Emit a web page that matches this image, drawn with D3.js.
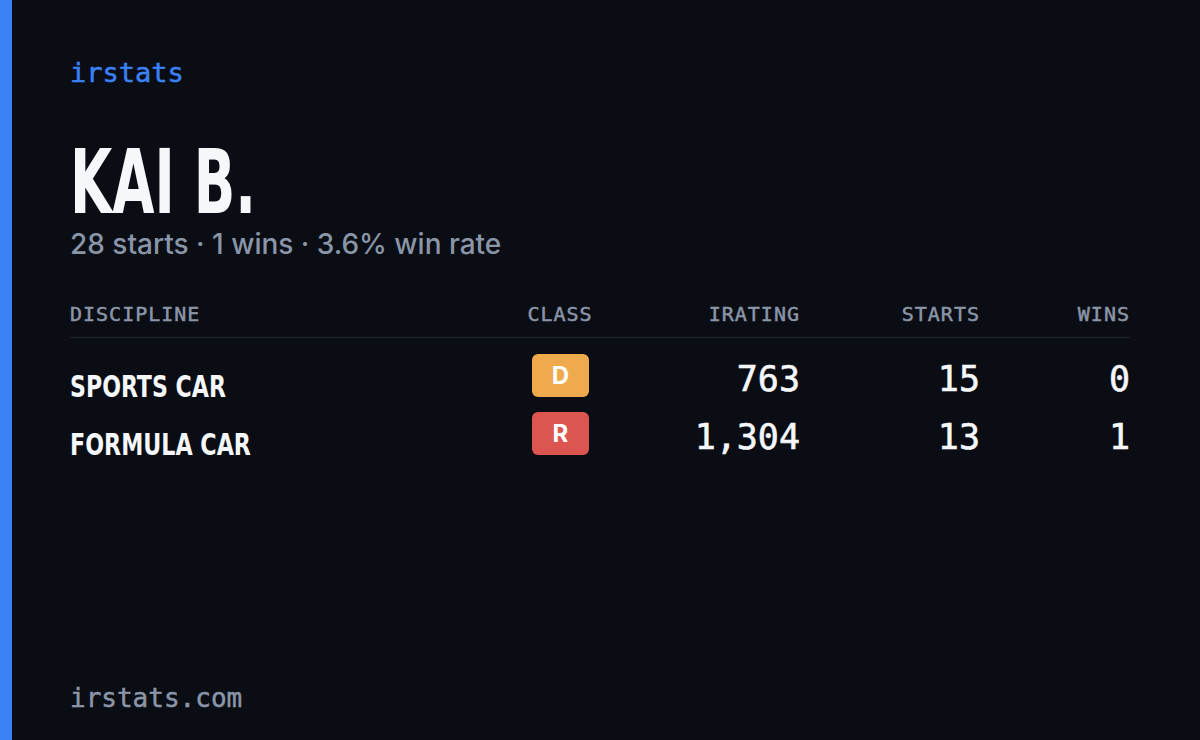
<!DOCTYPE html>
<html><head><meta charset="utf-8">
<script src="https://cdn.jsdelivr.net/npm/d3@7"></script>
<style>body{margin:0;background:#0a0d14}</style>
</head><body><div id="chart"></div>
<script>
const disciplines = ['SPORTS CAR', 'FORMULA CAR']
const classes = ['D', 'R']
const classColors = ['#eeaa4c', '#dc5550']
const iratings = [763, 1304]
const starts = [15, 13]
const wins = [0, 1]
const headers = ['DISCIPLINE', 'CLASS', 'IRATING', 'STARTS', 'WINS']

const W = 1200, H = 740
const mono = "'DejaVu Sans Mono', monospace"
const cond = "'DejaVu Sans Condensed', 'DejaVu Sans', sans-serif"
const svg = d3.select('#chart').append('svg').attr('width', W).attr('height', H)
svg.append('rect').attr('width', W).attr('height', H).attr('fill', '#0a0d14')
svg.append('rect').attr('width', 12).attr('height', H).attr('fill', '#3b82f6')

svg.append('text').attr('x', 70).attr('y', 82).text('irstats')
  .attr('font-family', mono).attr('font-size', 27).attr('fill', '#3b82f6')
  .attr('stroke', '#3b82f6').attr('stroke-width', 0.5)

// condensed title: squeeze horizontally to fit
function fitText(sel, targetW) {
  let w = sel.node().getComputedTextLength()
  let x = +sel.attr('x'), yy = +sel.attr('y')
  sel.attr('x', 0).attr('y', 0).attr('transform', `translate(${x},${yy}) scale(${targetW / w},1)`)
}
let title = svg.append('text').attr('x', 70).attr('y', 213).text('KAI B.')
  .attr('font-family', cond).attr('font-weight', 'bold').attr('font-size', 89)
  .attr('fill', '#f5f7fa')
fitText(title, 186)

let totalStarts = d3.sum(starts), totalWins = d3.sum(wins)
svg.append('text').attr('x', 70).attr('y', 254)
  .text(`${totalStarts} starts · ${totalWins} wins · ${(totalWins / totalStarts * 100).toFixed(1)}% win rate`)
  .attr('font-family', 'Inter, sans-serif').attr('font-weight', 500).attr('font-size', 28).attr('fill', '#8b95a8')

// column anchors
const colX = [70, 560, 800, 980, 1130]
const colAnchor = ['start', 'middle', 'end', 'end', 'end']
svg.selectAll('text.h').data(headers).enter().append('text').attr('class', 'h')
  .attr('x', (d, i) => colX[i]).attr('y', 321).attr('text-anchor', (d, i) => colAnchor[i])
  .attr('font-family', mono).attr('font-size', 20).attr('letter-spacing', 1)
  .attr('fill', '#8b95a8').attr('stroke', '#8b95a8').attr('stroke-width', 0.5).text(d => d)
svg.append('line').attr('x1', 70).attr('x2', 1130).attr('y1', 337.5).attr('y2', 337.5)
  .attr('stroke', '#1e232d').attr('stroke-width', 1.5)

const nameWidths = [156, 181]
const y = d3.scaleBand().domain(disciplines).range([346, 462])
const rows = svg.selectAll('g.row').data(disciplines).enter().append('g')
  .attr('transform', d => `translate(0,${y(d)})`)
rows.append('text').attr('x', 70).attr('y', 51).text(d => d)
  .attr('font-family', cond).attr('font-weight', 'bold').attr('font-size', 31)
  .attr('fill', '#f5f7fa')
  .each(function (d, i) { fitText(d3.select(this), nameWidths[i]) })
rows.append('rect').attr('x', 532).attr('y', 8).attr('width', 57).attr('height', 43).attr('rx', 6)
  .attr('fill', (d, i) => classColors[i])
rows.append('text').attr('x', 560.5).attr('y', 38).attr('text-anchor', 'middle')
  .text((d, i) => classes[i]).attr('font-family', 'Inter, sans-serif')
  .attr('font-weight', 'bold').attr('font-size', 24).attr('fill', '#fff')
const vals = [iratings, starts, wins]
vals.forEach((arr, k) => {
  rows.append('text').attr('x', colX[k + 2]).attr('y', 45).attr('text-anchor', 'end')
    .text((d, i) => d3.format(',')(arr[i])).attr('font-family', mono)
    .attr('font-size', 35).attr('fill', '#f5f7fa')
    .attr('stroke', '#f5f7fa').attr('stroke-width', 0.6)
})

svg.append('text').attr('x', 70).attr('y', 707).text('irstats.com')
  .attr('font-family', mono).attr('font-size', 26).attr('fill', '#8b95a8')
  .attr('stroke', '#8b95a8').attr('stroke-width', 0.5)
</script></body></html>
